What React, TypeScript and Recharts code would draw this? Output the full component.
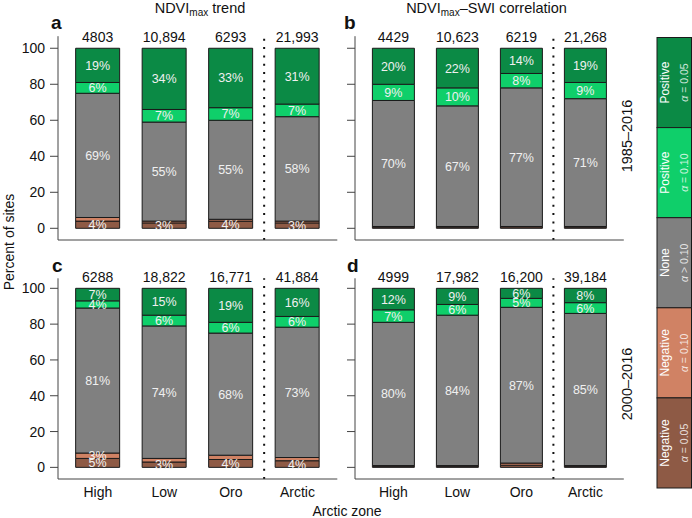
import { BarChart, Bar, XAxis, YAxis, ReferenceLine, LabelList } from "recharts";

const zones = ["High", "Low", "Oro", "Arctic"];
const yTicks = [0, 20, 40, 60, 80, 100];

// a: NDVImax trend, 1985–2016
const trend85Counts = [4803, 10894, 6293, 21993];
const trend85Neg05 = [4, 3, 4, 3];
const trend85Neg10 = [2, 1, 1, 1];
const trend85None = [69, 55, 55, 58];
const trend85Pos10 = [6, 7, 7, 7];
const trend85Pos05 = [19, 34, 33, 31];

// b: NDVImax–SWI correlation, 1985–2016
const corr85Counts = [4429, 10623, 6219, 21268];
const corr85Neg05 = [0.6, 0.6, 0.8, 0.6];
const corr85Neg10 = [0.4, 0.4, 0.2, 0.4];
const corr85None = [70, 67, 77, 71];
const corr85Pos10 = [9, 10, 8, 9];
const corr85Pos05 = [20, 22, 14, 19];

// c: NDVImax trend, 2000–2016
const trend00Counts = [6288, 18822, 16771, 41884];
const trend00Neg05 = [5, 3, 4.4, 3.7];
const trend00Neg10 = [3, 2, 2.4, 1.8];
const trend00None = [81, 74, 68.2, 72.8];
const trend00Pos10 = [4, 6, 6, 6];
const trend00Pos05 = [7, 15, 19, 15.7];

// d: NDVImax–SWI correlation, 2000–2016
const corr00Counts = [4999, 17982, 16200, 39184];
const corr00Neg05 = [0.6, 0.6, 1.2, 0.6];
const corr00Neg10 = [0.4, 0.4, 1.2, 0.4];
const corr00None = [80, 84, 87, 85];
const corr00Pos10 = [7, 6, 5, 6];
const corr00Pos05 = [12, 9, 5.6, 8];

const seriesKeys = ["neg05", "neg10", "none", "pos10", "pos05"];
const seriesColors = ["#8e5a45", "#d08264", "#808080", "#0fcf6a", "#0b8a45"];
const legendNames = ["Negative", "Negative", "None", "Positive", "Positive"];
const legendAlpha = ["= 0.05", "= 0.10", "> 0.10", "= 0.10", "= 0.05"];

const FONT = '"Liberation Sans", Arial, Helvetica, sans-serif';
const AXIS = "#444";

function buildRows(
  counts: number[],
  neg05: number[],
  neg10: number[],
  none: number[],
  pos10: number[],
  pos05: number[]
) {
  return zones.map((zone, i) => ({
    x: i + 1,
    zone,
    count: counts[i],
    neg05: neg05[i],
    neg10: neg10[i],
    none: none[i],
    pos10: pos10[i],
    pos05: pos05[i],
  }));
}

const rowsA = buildRows(trend85Counts, trend85Neg05, trend85Neg10, trend85None, trend85Pos10, trend85Pos05);
const rowsB = buildRows(corr85Counts, corr85Neg05, corr85Neg10, corr85None, corr85Pos10, corr85Pos05);
const rowsC = buildRows(trend00Counts, trend00Neg05, trend00Neg10, trend00None, trend00Pos10, trend00Pos05);
const rowsD = buildRows(corr00Counts, corr00Neg05, corr00Neg10, corr00None, corr00Pos10, corr00Pos05);

const fmtCount = (n: any) => (Number(n) >= 10000 ? Number(n).toLocaleString("en-US") : String(n));

// percent inside a segment, only for segments of 3% or more
const PctLabel = (props: any) => {
  const value = Number(props.value);
  if (!isFinite(value) || value < 3) return null;
  const vb = props.viewBox && props.viewBox.width != null ? props.viewBox : props;
  const cx = vb.x + vb.width / 2;
  const cy = vb.y + vb.height / 2;
  return (
    <text x={cx} y={cy} dy="0.36em" textAnchor="middle" fill="#f0f0f0" fontSize={12.5}>
      {Math.round(value)}%
    </text>
  );
};

interface PanelProps {
  rows: ReturnType<typeof buildRows>;
  left: number;
  top: number;
  width: number;
  height: number;
  yWidth: number;
  marginTop: number;
  marginRight: number;
  xHeight: number;
  domain: [number, number];
  barSize: number;
  showX: boolean;
  showY: boolean;
}

function Panel(p: PanelProps) {
  return (
    <div style={{ position: "absolute", left: p.left, top: p.top }}>
      <BarChart
        width={p.width}
        height={p.height}
        data={p.rows}
        margin={{ top: p.marginTop, right: p.marginRight, bottom: 0, left: 0 }}
      >
        <XAxis
          dataKey="x"
          type="number"
          domain={[0.4, 4.6]}
          ticks={[1, 2, 3, 4]}
          tickFormatter={(v: number) => zones[v - 1] ?? ""}
          tick={p.showX ? { fill: "#111", fontSize: 14 } : false}
          tickLine={false}
          tickSize={6}
          tickMargin={2}
          axisLine={{ stroke: AXIS }}
          height={p.xHeight}
        />
        <YAxis
          type="number"
          domain={p.domain}
          ticks={yTicks}
          width={p.yWidth}
          tickSize={8}
          tickMargin={5}
          tick={{ fill: "#111", fontSize: 14 }}
          tickFormatter={p.showY ? (v: number) => String(v) : () => ""}
          tickLine={{ stroke: AXIS }}
          axisLine={{ stroke: AXIS }}
        />
        <ReferenceLine x={3.5} stroke="#111" strokeWidth={2} strokeDasharray="2 6.3" />
        {seriesKeys.map((key, si) => (
          <Bar
            key={key}
            dataKey={key}
            stackId="s"
            fill={seriesColors[si]}
            stroke="#1a1a1a"
            strokeWidth={1}
            barSize={p.barSize}
            isAnimationActive={false}
          >
            <LabelList dataKey={key} content={PctLabel} />
            {si === seriesKeys.length - 1 && (
              <LabelList
                dataKey="count"
                position="top"
                offset={6}
                formatter={fmtCount}
                fill="#111"
                fontSize={14}
              />
            )}
          </Bar>
        ))}
      </BarChart>
    </div>
  );
}

function Title({ x, rest }: { x: number; rest: string }) {
  return (
    <text x={x} y={12.5} textAnchor="middle" fontSize={14.5} fill="#111">
      NDVI
      <tspan fontSize={10} dy={3}>
        max
      </tspan>
      <tspan dy={-3}>{rest}</tspan>
    </text>
  );
}

function Legend() {
  const x0 = 657;
  const y0 = 37.5;
  const w = 34.5;
  const h = 90.1;
  const order = [4, 3, 2, 1, 0];
  return (
    <g>
      {order.map((si, i) => {
        const y = y0 + i * h;
        const cy = y + h / 2;
        return (
          <g key={si}>
            <rect x={x0} y={y} width={w} height={h} fill={seriesColors[si]} stroke="#1a1a1a" strokeWidth={1} />
            <text
              x={665}
              y={cy}
              transform={`rotate(-90 665 ${cy})`}
              textAnchor="middle"
              dy="0.36em"
              fontSize={12}
              fill="#fff"
            >
              {legendNames[si]}
            </text>
            <text
              x={684.5}
              y={cy}
              transform={`rotate(-90 684.5 ${cy})`}
              textAnchor="middle"
              dy="0.36em"
              fontSize={10.5}
              fill="#fff"
              fillOpacity={0.8}
            >
              <tspan fontStyle="italic">α</tspan> {legendAlpha[si]}
            </text>
          </g>
        );
      })}
    </g>
  );
}

export default function App() {
  return (
    <div
      style={{
        position: "absolute",
        left: 0,
        top: 0,
        width: 692,
        height: 518,
        background: "#fff",
        fontFamily: FONT,
        overflow: "hidden",
      }}
    >
      <Panel rows={rowsA} left={0} top={0} width={345} height={260} yWidth={58} marginTop={36.2} marginRight={7.7}
        xHeight={20} domain={[-6.5, 106.7]} barSize={44} showX={false} showY={true} />
      <Panel rows={rowsB} left={300} top={0} width={330} height={260} yWidth={55} marginTop={36.2} marginRight={6.2}
        xHeight={20} domain={[-6.5, 106.7]} barSize={42} showX={false} showY={false} />
      <Panel rows={rowsC} left={0} top={250} width={345} height={268} yWidth={58} marginTop={28.3} marginRight={7.7}
        xHeight={39} domain={[-6.5, 105.6]} barSize={44} showX={true} showY={true} />
      <Panel rows={rowsD} left={300} top={250} width={330} height={268} yWidth={55} marginTop={28.3} marginRight={6.2}
        xHeight={39} domain={[-6.5, 105.6]} barSize={42} showX={true} showY={false} />

      <svg
        width={692}
        height={518}
        style={{ position: "absolute", left: 0, top: 0, pointerEvents: "none", fontFamily: FONT }}
      >
        <Title x={200} rest=" trend" />
        <Title x={486.5} rest="–SWI correlation" />

        <text x={51} y={29} fontSize={19} fontWeight="bold" fill="#111">a</text>
        <text x={344} y={29} fontSize={19} fontWeight="bold" fill="#111">b</text>
        <text x={52} y={272} fontSize={19} fontWeight="bold" fill="#111">c</text>
        <text x={347} y={272} fontSize={19} fontWeight="bold" fill="#111">d</text>

        <text x={627} y={136} transform="rotate(-90 627 136)" textAnchor="middle" dy="0.36em" fontSize={14.5} fill="#111">
          1985–2016
        </text>
        <text x={627} y={384} transform="rotate(-90 627 384)" textAnchor="middle" dy="0.36em" fontSize={14.5} fill="#111">
          2000–2016
        </text>

        <text x={9} y={242} transform="rotate(-90 9 242)" textAnchor="middle" dy="0.36em" fontSize={14} fill="#111">
          Percent of sites
        </text>
        <text x={347} y={516} textAnchor="middle" fontSize={14} fill="#111">
          Arctic zone
        </text>

        <Legend />
      </svg>
    </div>
  );
}
